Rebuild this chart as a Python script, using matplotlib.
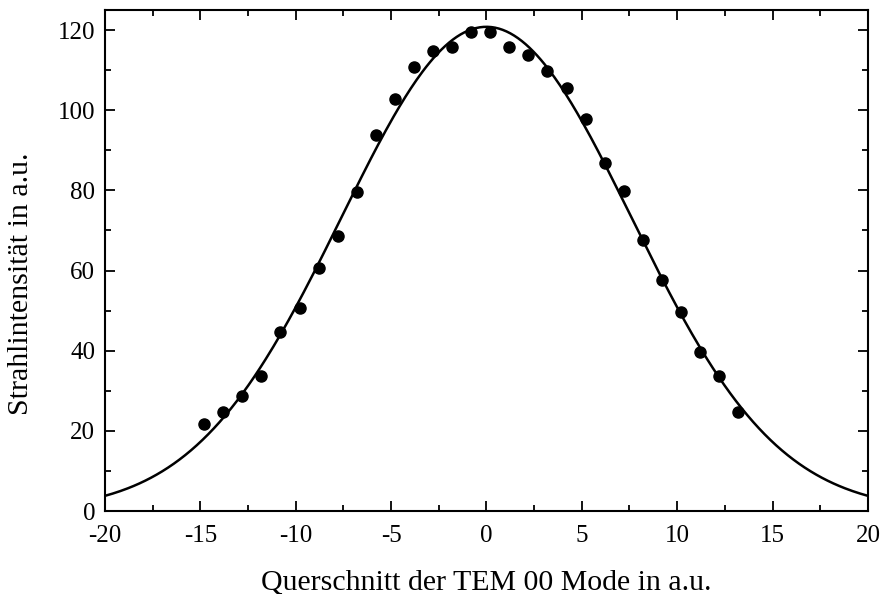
import numpy as np
from matplotlib import pyplot as plt

# measured beam profile
x_pos = [-14.8, -13.8, -12.8, -11.8, -10.8, -9.8, -8.8, -7.8, -6.8, -5.8,
         -4.8, -3.8, -2.8, -1.8, -0.8, 0.2, 1.2, 2.2, 3.2, 4.2,
         5.2, 6.2, 7.2, 8.2, 9.2, 10.2, 11.2, 12.2, 13.2]
intensity = [21.7, 24.7, 28.7, 33.7, 44.7, 50.7, 60.6, 68.6, 79.7, 93.8,
             102.7, 110.7, 114.8, 115.7, 119.6, 119.6, 115.7, 113.7, 109.8, 105.6,
             97.8, 86.8, 79.8, 67.6, 57.7, 49.7, 39.7, 33.8, 24.8]

# gaussian fit parameters
fit_amp = 120.8
fit_center = 0.0
fit_sigma = 7.6

x_ticks = [-20, -15, -10, -5, 0, 5, 10, 15, 20]
y_ticks = [0, 20, 40, 60, 80, 100, 120]


def gauss(x):
    return fit_amp * np.exp(-(x - fit_center) ** 2 / (2 * fit_sigma ** 2))


def plot():
    plt.rcParams['font.family'] = ['Liberation Serif', 'DejaVu Serif']
    fig = plt.figure(figsize=(8.82, 5.94), dpi=100)
    ax = fig.add_axes([0.119, 0.1397, 0.865, 0.8435])

    xs = np.linspace(-20, 20, 400)
    ax.plot(xs, gauss(xs), color='k', lw=1.8, zorder=2)
    ax.plot(x_pos, intensity, 'o', color='k', ms=8, zorder=3)

    ax.set_xlim(-20, 20)
    ax.set_ylim(0, 125)
    ax.set_xticks(x_ticks)
    ax.set_xticklabels([str(t) for t in x_ticks])
    ax.set_yticks(y_ticks)
    ax.set_xticks(np.arange(-17.5, 20, 5), minor=True)
    ax.set_yticks(np.arange(10, 125, 20), minor=True)

    ax.tick_params(which='both', direction='in', top=True, right=True,
                   width=1.3, labelsize=18)
    ax.tick_params(axis='x', which='major', pad=10)
    ax.tick_params(axis='y', which='major', pad=7)
    ax.tick_params(which='major', length=7)
    ax.tick_params(which='minor', length=4)
    for sp in ax.spines.values():
        sp.set_linewidth(1.5)

    ax.set_xlabel('Querschnitt der TEM 00 Mode in a.u.', fontsize=21.5)
    ax.set_ylabel('Strahlintensität in a.u.', fontsize=21.5)
    ax.xaxis.set_label_coords(0.5, -0.116)
    ax.yaxis.set_label_coords(-0.093, 0.453)

    fig.savefig('out.png', dpi=100)


if __name__ == '__main__':
    plot()
